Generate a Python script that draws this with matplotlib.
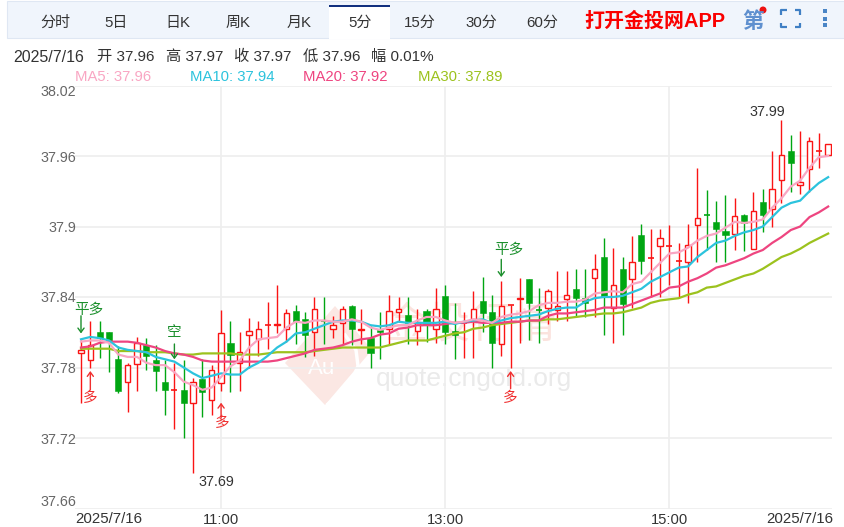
import matplotlib
matplotlib.use('Agg')
import matplotlib.pyplot as plt
from matplotlib.patches import Polygon, Rectangle, Circle

plt.rcParams['font.family'] = ['Liberation Sans', 'Noto Sans CJK SC', 'DejaVu Sans']

# 5分 candles
opens = [37.792,37.786,37.810,37.810,37.787,37.768,37.783,37.799,37.786,37.768,
         37.761,37.761,37.750,37.770,37.752,37.767,37.801,37.784,37.808,37.804,
         37.816,37.816,37.813,37.828,37.821,37.810,37.820,37.813,37.818,37.832,
         37.812,37.805,37.812,37.813,37.827,37.825,37.811,37.828,37.813,37.841,
         37.811,37.818,37.821,37.837,37.827,37.800,37.833,37.838,37.855,37.829,
         37.831,37.829,37.838,37.847,37.839,37.856,37.874,37.831,37.864,37.855,
         37.893,37.873,37.883,37.883,37.871,37.870,37.901,37.910,37.904,37.896,
         37.894,37.910,37.881,37.921,37.915,37.940,37.964,37.935,37.949,37.964,37.961]
closes = [37.795,37.799,37.805,37.802,37.760,37.782,37.801,37.790,37.777,37.761,
          37.761,37.750,37.768,37.759,37.778,37.809,37.791,37.793,37.811,37.813,
          37.816,37.817,37.826,37.820,37.808,37.830,37.820,37.816,37.830,37.813,
          37.813,37.792,37.810,37.828,37.830,37.818,37.819,37.816,37.830,37.810,
          37.808,37.818,37.830,37.826,37.801,37.832,37.833,37.839,37.835,37.829,
          37.845,37.832,37.842,37.839,37.835,37.864,37.840,37.850,37.834,37.870,
          37.871,37.873,37.890,37.883,37.871,37.884,37.907,37.910,37.898,37.893,
          37.909,37.903,37.913,37.910,37.932,37.961,37.954,37.938,37.973,37.964,37.970]
highs = [37.803,37.820,37.820,37.810,37.798,37.784,37.806,37.805,37.799,37.786,
         37.784,37.786,37.771,37.787,37.782,37.829,37.820,37.810,37.822,37.820,
         37.836,37.850,37.830,37.833,37.827,37.840,37.840,37.824,37.832,37.833,
         37.830,37.815,37.827,37.842,37.840,37.840,37.830,37.830,37.848,37.850,
         37.835,37.827,37.845,37.857,37.842,37.854,37.833,37.856,37.855,37.848,
         37.847,37.862,37.862,37.864,37.864,37.877,37.890,37.882,37.874,37.892,
         37.902,37.898,37.898,37.901,37.886,37.902,37.950,37.931,37.922,37.927,
         37.924,37.911,37.929,37.932,37.964,37.991,37.978,37.981,37.976,37.980,37.970]
lows = [37.750,37.780,37.788,37.776,37.758,37.742,37.760,37.778,37.760,37.740,
        37.728,37.720,37.690,37.738,37.740,37.760,37.759,37.760,37.780,37.790,
        37.796,37.809,37.802,37.800,37.789,37.790,37.800,37.805,37.800,37.799,
        37.800,37.780,37.787,37.799,37.819,37.800,37.799,37.802,37.801,37.800,
        37.787,37.788,37.788,37.810,37.780,37.790,37.780,37.801,37.803,37.801,
        37.817,37.820,37.820,37.823,37.823,37.823,37.808,37.801,37.808,37.831,
        37.860,37.840,37.840,37.850,37.840,37.835,37.870,37.880,37.870,37.870,
        37.880,37.879,37.881,37.895,37.900,37.920,37.929,37.928,37.929,37.950,37.961]

ma5 = [37.802,37.803,37.803,37.801,37.791,37.789,37.789,37.784,37.782,37.782,
       37.776,37.768,37.765,37.761,37.763,37.772,37.781,37.786,37.797,37.804,
       37.805,37.806,37.814,37.819,37.818,37.820,37.820,37.819,37.819,37.821,
       37.819,37.814,37.812,37.814,37.816,37.816,37.820,37.823,37.823,37.820,
       37.818,37.819,37.821,37.820,37.818,37.823,37.825,37.826,37.828,37.833,
       37.835,37.835,37.836,37.836,37.838,37.843,37.844,37.845,37.844,37.851,
       37.853,37.861,37.869,37.877,37.878,37.882,37.888,37.892,37.894,37.899,
       37.904,37.903,37.904,37.906,37.916,37.924,37.934,37.939,37.950,37.959,37.960]
ma10 = [37.804,37.806,37.805,37.803,37.797,37.795,37.794,37.793,37.789,37.787,
        37.785,37.780,37.775,37.771,37.773,37.775,37.774,37.774,37.780,37.784,
        37.790,37.797,37.802,37.809,37.810,37.813,37.816,37.819,37.820,37.820,
        37.819,37.816,37.815,37.816,37.819,37.818,37.818,37.818,37.818,37.819,
        37.817,37.819,37.820,37.821,37.818,37.820,37.822,37.823,37.824,37.825,
        37.828,37.830,37.831,37.831,37.836,37.839,37.840,37.840,37.841,37.844,
        37.847,37.853,37.857,37.861,37.865,37.866,37.874,37.880,37.886,37.888,
        37.892,37.895,37.897,37.900,37.908,37.916,37.920,37.922,37.930,37.937,37.942]
ma20 = [37.797,37.798,37.801,37.802,37.802,37.802,37.801,37.799,37.797,37.794,
        37.792,37.791,37.789,37.786,37.785,37.785,37.785,37.785,37.785,37.785,
        37.785,37.786,37.788,37.790,37.792,37.795,37.796,37.797,37.799,37.802,
        37.804,37.805,37.808,37.809,37.813,37.814,37.816,37.816,37.816,37.817,
        37.818,37.818,37.819,37.818,37.818,37.818,37.819,37.819,37.820,37.820,
        37.824,37.826,37.826,37.827,37.828,37.829,37.831,37.831,37.831,37.834,
        37.837,37.840,37.843,37.848,37.849,37.853,37.856,37.860,37.865,37.867,
        37.870,37.873,37.877,37.880,37.886,37.891,37.897,37.900,37.908,37.912,37.917]
ma30 = [37.796,37.796,37.796,37.796,37.794,37.794,37.794,37.793,37.793,37.793,
        37.792,37.791,37.791,37.792,37.792,37.792,37.792,37.791,37.791,37.791,
        37.792,37.793,37.793,37.793,37.793,37.794,37.795,37.796,37.797,37.797,
        37.797,37.797,37.797,37.799,37.801,37.803,37.803,37.803,37.805,37.807,
        37.809,37.810,37.813,37.814,37.816,37.817,37.818,37.819,37.820,37.820,
        37.821,37.821,37.822,37.823,37.824,37.825,37.826,37.826,37.827,37.829,
        37.831,37.835,37.837,37.838,37.839,37.842,37.844,37.848,37.849,37.852,
        37.855,37.858,37.860,37.864,37.869,37.874,37.877,37.881,37.886,37.890,37.894]

y_ticks = [37.66, 37.72, 37.78, 37.84, 37.9, 37.96, 38.02]
y_labels = ['37.66', '37.72', '37.78', '37.84', '37.9', '37.96', '38.02']
x_ticks = [15, 39, 63]
x_labels = ['11:00', '13:00', '15:00']
date_label = '2025/7/16'

tabs = ['分时', '5日', '日K', '周K', '月K', '5分', '15分', '30分', '60分']
tab_x = [55, 116, 178, 238, 299, 360, 420, 481, 542]

info_labels = ['开 37.96', '高 37.97', '收 37.97', '低 37.96', '幅 0.01%']
info_x = [97, 166, 234, 303, 371]
ma_labels = ['MA5: 37.96', 'MA10: 37.94', 'MA20: 37.92', 'MA30: 37.89']
ma_x = [75, 190, 303, 418]
ma_colors = ['#f9a6c3', '#2cc3dd', '#ee4580', '#9cc21e']

RED = '#fa1414'
GREEN = '#00a612'
SIGNAL_RED = '#f03030'
SIGNAL_GREEN = '#1b8f2c'

fig = plt.figure(figsize=(8.45, 5.27), dpi=100)

# overlay in pixels for the page furniture
bg = fig.add_axes([0, 0, 1, 1], zorder=0)
bg.set_xlim(0, 845)
bg.set_ylim(527, 0)
bg.axis('off')

bg.add_patch(Rectangle((7, 1), 838, 37, fc='#f0f5fc', ec='#dfe7f3', lw=0.8))
bg.add_patch(Rectangle((329, 5), 61, 34, fc='white', ec='none'))
bg.add_patch(Rectangle((329, 5), 61, 2, fc='#12307f', ec='none'))
for t, x in zip(tabs, tab_x):
    bg.text(x, 22.5, t, ha='center', va='center', fontsize=10.8, color='#333333')
bg.text(655, 21.5, '打开金投网APP', ha='center', va='center', fontsize=14.4,
        color='#fa0000', fontweight='bold')
bg.text(753, 22, '第', ha='center', va='center', fontsize=15.5, color='#5f90cf', fontweight='bold')
bg.add_patch(Circle((763, 10), 3.5, fc='#ee1111', ec='none'))
for xs, ys in [([781, 781, 787], [15, 10, 10]), ([795, 800, 800], [10, 10, 15]),
               ([781, 781, 787], [23, 27, 27]), ([795, 800, 800], [27, 27, 23])]:
    bg.plot(xs, ys, color='#3f7fc4', lw=1.6, solid_capstyle='butt')
for y in [11, 18.5, 25]:
    bg.add_patch(Rectangle((823, y - 2), 4, 4, fc='#4a85c6', ec='none'))

bg.text(13, 57, date_label, va='center', fontsize=11.5, color='#333333')
for t, x in zip(info_labels, info_x):
    bg.text(x, 57, t, va='center', fontsize=11, color='#333333')
for t, x, c in zip(ma_labels, ma_x, ma_colors):
    bg.text(x, 77, t, va='center', fontsize=10.7, color=c)

# watermark
bg.add_patch(Polygon([(335, 306), (285, 363), (325, 405), (372, 350)], fc='#fbe7e3', ec='none'))
bg.plot([345, 356, 358, 350, 328], [335, 350, 366, 385, 404], color='white', lw=2.5)
bg.text(322, 369, 'Au', ha='center', va='center', fontsize=16, color='white')
bg.text(385, 328, '金投行情', va='center', fontsize=31, color='#fbe3de', zorder=3)
bg.text(376, 379, 'quote.cngold.org', va='center', fontsize=19, color='#eaeaea')

ax = fig.add_axes([75 / 845, 1 - 508.5 / 527, 757 / 845, 423 / 527], zorder=1)
ax.patch.set_alpha(0)
ax.set_xlim(-0.642, 80.41)
ax.set_ylim(37.66, 38.02)
for s in ax.spines.values():
    s.set_visible(False)
ax.set_axisbelow(True)
ax.grid(True, color='#eeeeee', lw=1.2)
ax.set_yticks(y_ticks)
ax.set_yticklabels(y_labels)
ax.set_xticks(x_ticks)
ax.set_xticklabels(x_labels)
ax.tick_params(length=0)
ax.tick_params(axis='y', pad=-1, labelsize=10.3, labelcolor='#666666')
ax.tick_params(axis='x', pad=3, labelsize=10.6, labelcolor='#333333')
ax.get_yticklabels()[0].set_va('bottom')
ax.get_yticklabels()[-1].set_va('top')
bg.text(109, 519, date_label, ha='center', va='center', fontsize=10.8, color='#333333')
bg.text(800, 519, date_label, ha='center', va='center', fontsize=10.8, color='#333333')

for i in range(len(opens)):
    up = closes[i] >= opens[i]
    if abs(closes[i] - opens[i]) < 0.0005:
        up = i not in (26, 49, 67)
    c = RED if up else GREEN
    ax.vlines(i, lows[i], highs[i], color=c, lw=1.0, zorder=2)
    bottom = min(opens[i], closes[i])
    h = abs(closes[i] - opens[i])
    if h < 0.0005:
        ax.hlines(closes[i], i - 0.32, i + 0.32, color=c, lw=1.2, zorder=3)
    elif up:
        ax.bar(i, h, bottom=bottom, width=0.58, facecolor='white', edgecolor=c, lw=1.0, zorder=3)
    else:
        ax.bar(i, h, bottom=bottom, width=0.66, facecolor=c, edgecolor=c, lw=0.4, zorder=3)

for series, c in zip([ma30, ma20, ma10, ma5], ma_colors[::-1]):
    ax.plot(range(len(series)), series, color=c, lw=1.6, zorder=4)

ax.text(14.5, 37.6825, '37.69', ha='center', va='center', fontsize=10.3, color='#333333')
ax.text(73.5, 37.9975, '37.99', ha='center', va='center', fontsize=10.3, color='#333333')


# signal marks: index, text, where the arrow starts and ends
def signal(i, text, tip, tail, text_y, col, dx=0.0):
    ax.annotate('', xy=(i, tip), xytext=(i, tail), zorder=5,
                arrowprops=dict(arrowstyle='->,head_width=0.22,head_length=0.3', color=col, lw=1, shrinkA=0, shrinkB=0))
    ax.text(i + dx, text_y, text, ha='center', va='center', fontsize=10.5, color=col, zorder=5)


signal(0, '平多', 37.809, 37.824, 37.829, SIGNAL_GREEN, dx=0.8)
signal(1, '多', 37.777, 37.761, 37.754, SIGNAL_RED)
signal(10, '空', 37.787, 37.800, 37.810, SIGNAL_GREEN)
signal(15, '多', 37.750, 37.737, 37.733, SIGNAL_RED, dx=0.1)
signal(45, '平多', 37.857, 37.872, 37.880, SIGNAL_GREEN, dx=0.8)
signal(46, '多', 37.777, 37.762, 37.754, SIGNAL_RED)

fig.savefig('out.png', dpi=100)
